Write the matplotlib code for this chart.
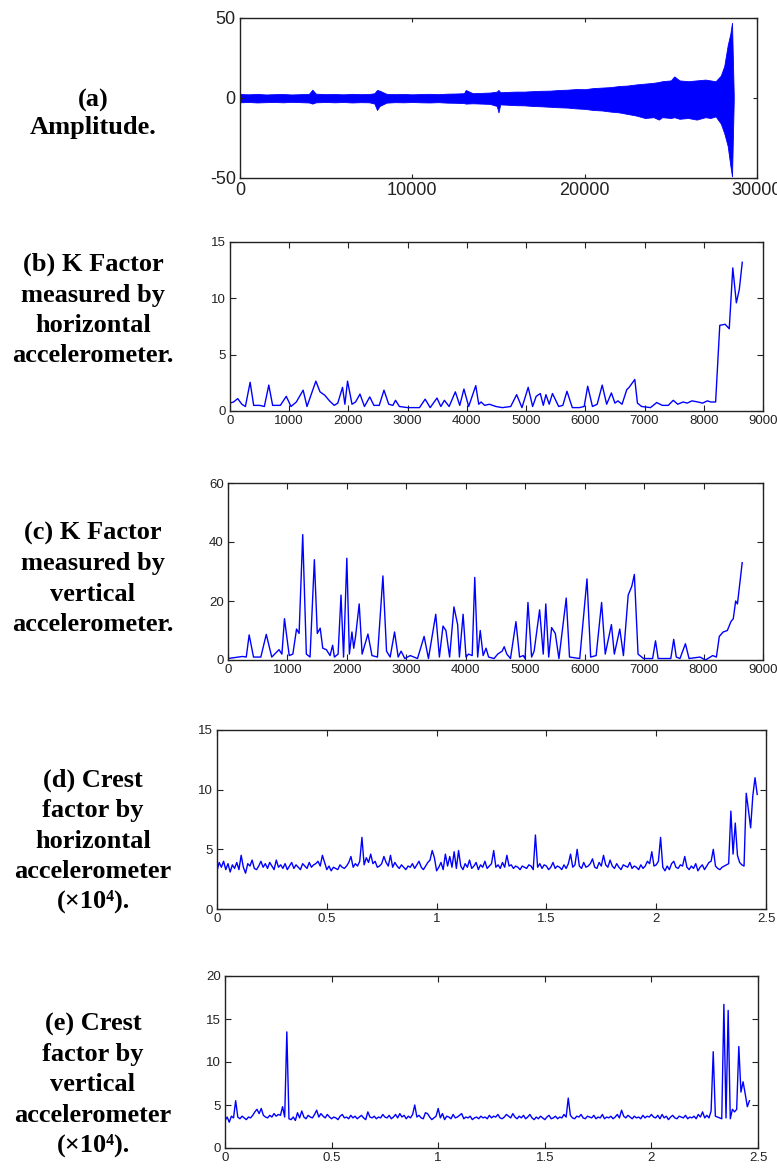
import numpy as np
import matplotlib.pyplot as plt

plt.rcParams['axes.unicode_minus'] = False

# (a) vibration amplitude, drawn as upper / lower envelope of the raw signal
amp_x = [0, 500, 1000, 1500, 2000, 2500, 3000, 3500, 4000, 4200, 4400, 5000, 5500,
         6000, 6500, 7000, 7500, 7800, 7950, 8100, 8500, 9000, 9500, 10000, 10500,
         11000, 11500, 12000, 12500, 13000, 13100, 13500, 14000, 14500, 14900, 15000,
         15100, 15500, 16000, 16500, 17000, 17500, 18000, 18500, 19000, 19500, 20000,
         20500, 21000, 21500, 22000, 22500, 23000, 23500, 24000, 24300, 24500, 25000,
         25200, 25500, 26000, 26500, 27000, 27300, 27600, 27900, 28100, 28300, 28450,
         28550, 28650]
amp_hi = [2.5, 2.3, 2.6, 2.2, 2.4, 2.5, 2.2, 2.4, 2.6, 5.2, 2.7, 2.4, 2.5,
          2.3, 2.6, 2.4, 2.5, 3.0, 5.0, 4.6, 2.6, 2.4, 2.5, 2.3, 2.5,
          2.6, 2.4, 2.7, 2.8, 3.0, 5.0, 3.0, 3.2, 3.4, 4.0, 5.0,
          3.6, 3.8, 4.0, 4.0, 4.3, 4.5, 4.6, 5.0, 5.2, 5.6, 5.5,
          6.2, 6.5, 6.8, 7.5, 7.8, 8.5, 9.0, 9.5, 10.0, 10.5, 11.0,
          13.5, 11.0, 10.5, 11.0, 11.5, 11.0, 10.5, 14.0, 20.0, 33.0, 40.0,
          47.0, 2.0]
amp_lo = [-2.7, -2.5, -2.8, -2.6, -2.5, -2.7, -2.4, -2.6, -2.8, -3.5, -2.7, -2.5, -2.7,
          -2.5, -2.8, -2.6, -2.7, -3.5, -7.5, -5.0, -2.9, -2.6, -2.7, -2.5, -2.7,
          -2.8, -2.6, -2.9, -3.0, -3.2, -3.5, -3.3, -3.5, -3.7, -5.0, -9.0,
          -4.0, -4.2, -4.5, -4.6, -5.0, -5.2, -5.5, -5.8, -6.0, -6.5, -6.8,
          -7.5, -7.8, -8.5, -9.0, -10.0, -11.0, -12.5, -12.0, -13.5, -12.0, -12.5,
          -12.0, -13.0, -12.5, -13.5, -12.0, -12.5, -11.5, -16.0, -22.0, -30.0, -42.0,
          -49.0, -2.0]

# (b) K factor, horizontal accelerometer
kh_x = [0, 60, 130, 200, 260, 340, 400, 500, 580, 655, 720, 850, 950, 1030, 1120,
        1235, 1300, 1450, 1520, 1600, 1680, 1760, 1820, 1900, 1940, 1985, 2060, 2120,
        2195, 2270, 2360, 2430, 2520, 2600, 2680, 2750, 2795, 2860, 3000, 3200, 3295,
        3380, 3495, 3560, 3620, 3700, 3805, 3880, 3950, 4030, 4150, 4200, 4240, 4300,
        4380, 4490, 4600, 4740, 4840, 4930, 5035, 5110, 5170, 5240, 5290, 5335, 5390,
        5445, 5550, 5620, 5690, 5780, 5900, 5980, 6040, 6120, 6200, 6285, 6360, 6440,
        6500, 6550, 6620, 6700, 6740, 6835, 6880, 6950, 7100, 7205, 7300, 7400, 7485,
        7560, 7650, 7720, 7800, 7900, 7980, 8060, 8120, 8200, 8270, 8360, 8430, 8490,
        8550, 8600, 8650]
kh_y = [0.7, 0.8, 1.1, 0.6, 0.4, 2.55, 0.5, 0.5, 0.4, 2.3, 0.5, 0.5, 1.3, 0.4, 0.8,
        1.85, 0.4, 2.65, 1.7, 1.4, 0.9, 0.5, 0.7, 2.1, 0.6, 2.65, 0.6, 0.8,
        1.5, 0.4, 1.25, 0.5, 0.5, 1.85, 0.6, 0.5, 0.95, 0.4, 0.3, 0.3, 1.05,
        0.3, 1.15, 0.4, 0.95, 0.4, 1.7, 0.5, 1.95, 0.4, 2.25, 0.6, 0.8, 0.5,
        0.6, 0.4, 0.3, 0.4, 1.45, 0.3, 2.1, 0.4, 1.3, 1.55, 0.5, 1.45, 0.6,
        1.55, 0.4, 0.5, 1.75, 0.3, 0.3, 0.4, 2.2, 0.4, 0.6, 2.3, 0.6, 1.6,
        0.7, 0.9, 0.6, 1.9, 2.1, 2.8, 0.7, 0.4, 0.3, 0.75, 0.5, 0.5, 0.95,
        0.6, 0.8, 0.7, 0.9, 0.8, 0.7, 0.9, 0.8, 0.8, 7.6, 7.7, 7.3, 12.7,
        9.6, 10.8, 13.2]

# (c) K factor, vertical accelerometer
kv_x = [0, 245, 307, 356, 429, 552, 644, 736, 858, 907, 950, 1030, 1091, 1153, 1196,
        1257, 1318, 1380, 1453, 1502, 1551, 1594, 1655, 1717, 1760, 1790, 1852, 1901,
        1944, 1999, 2042, 2085, 2115, 2146, 2207, 2256, 2354, 2422, 2514, 2606, 2667,
        2728, 2802, 2863, 2912, 2974, 3066, 3188, 3299, 3372, 3495, 3556, 3617, 3666,
        3728, 3801, 3863, 3893, 3955, 4004, 4047, 4108, 4151, 4200, 4243, 4292, 4341,
        4384, 4476, 4537, 4611, 4647, 4690, 4752, 4844, 4905, 4966, 4997, 5046, 5107,
        5150, 5242, 5303, 5346, 5395, 5444, 5506, 5567, 5690, 5745, 5917, 6039, 6101,
        6193, 6285, 6346, 6450, 6499, 6591, 6652, 6732, 6793, 6836, 6898, 6990, 7143,
        7192, 7236, 7449, 7498, 7541, 7603, 7695, 7756, 7940, 8032, 8154, 8216, 8265,
        8330, 8400, 8460, 8500, 8540, 8570, 8610, 8650]
kv_y = [0.5, 1.2, 1.0, 8.5, 1.0, 1.0, 8.7, 1.0, 3.5, 2.0, 14.0, 1.5, 2.0, 10.5, 9.0,
        42.5, 2.0, 1.0, 34.0, 9.0, 10.8, 4.0, 3.5, 1.5, 5.0, 1.0, 2.0, 22.0,
        1.0, 34.5, 2.0, 9.5, 4.0, 8.0, 19.0, 2.0, 8.8, 1.5, 1.0, 28.5, 3.0,
        1.0, 9.5, 1.0, 3.0, 0.5, 1.5, 0.5, 8.0, 0.5, 15.5, 1.0, 11.5, 10.0,
        1.0, 18.0, 12.0, 1.0, 15.5, 1.0, 2.0, 1.5, 28.0, 1.0, 10.0, 1.5, 4.0,
        1.0, 0.5, 2.0, 3.0, 4.5, 2.0, 0.5, 13.0, 1.0, 1.5, 0.5, 19.5, 1.0,
        3.0, 17.0, 2.0, 19.0, 1.0, 11.0, 9.0, 0.5, 21.0, 1.0, 0.5, 27.5, 1.0,
        1.5, 19.5, 2.0, 12.0, 2.0, 10.5, 1.5, 22.0, 25.0, 29.0, 2.0, 0.5, 0.5,
        6.5, 0.5, 0.5, 7.0, 1.0, 0.5, 5.5, 0.5, 1.0, 0.0, 1.5, 1.0, 8.0,
        9.5, 10.0, 13.0, 14.0, 20.0, 19.0, 26.0, 33.0]

# (d) crest factor, horizontal accelerometer, one value per 0.01 (x10^4 samples)
ch_y = [3.2, 3.9, 3.5, 4.0, 3.3, 3.8, 3.1, 3.7, 3.4, 3.9,
        3.3, 4.5, 3.5, 3.0, 3.8, 3.6, 4.1, 3.4, 3.3, 3.6,
        4.0, 3.5, 3.8, 3.4, 3.9, 3.6, 3.3, 4.1, 3.5, 3.7,
        3.4, 3.8, 3.3, 3.6, 3.9, 3.4, 3.7, 3.5, 3.3, 3.8,
        3.6, 3.4, 3.9, 3.5, 3.7, 3.8, 4.0, 3.6, 4.5, 3.9,
        3.3, 3.6, 3.2, 3.5, 3.4, 3.3, 3.7, 3.5, 3.4, 3.6,
        3.9, 4.4, 3.5, 3.8, 3.6, 4.0, 6.0, 3.7, 4.3, 3.9,
        4.6, 3.8, 4.0, 3.5, 3.6, 3.8, 4.4, 3.9, 3.6, 4.5,
        3.5, 3.9, 3.6, 3.4, 3.7, 3.5, 3.3, 3.6, 3.5, 3.8,
        3.4, 3.7, 4.0, 3.5, 3.3, 3.6, 3.9, 4.1, 4.9, 4.3,
        3.2, 3.5, 3.9, 3.3, 4.6, 3.6, 4.4, 3.5, 4.8, 3.4,
        4.9, 3.6, 3.3, 3.8, 3.5, 4.1, 3.4, 3.6, 3.9, 3.3,
        3.7, 3.5, 4.0, 3.4, 3.6, 3.8, 4.9, 3.5, 3.7, 3.4,
        3.9, 3.5, 4.5, 3.6, 3.7, 3.4, 3.6, 3.5, 3.3, 3.6,
        3.5, 3.4, 3.7, 3.6, 3.3, 6.2, 3.5, 3.8, 3.4, 3.7,
        3.6, 3.3, 3.5, 3.9, 3.4, 3.6, 3.5, 3.3, 3.7, 3.4,
        3.8, 4.6, 3.5, 3.7, 5.0, 3.6, 3.4, 3.9, 3.5, 3.6,
        3.8, 4.2, 3.5, 3.4, 3.9, 3.6, 4.5, 3.7, 3.5, 4.1,
        3.6, 3.4, 3.8, 3.5, 3.3, 3.7, 3.6, 3.5, 3.9, 3.4,
        3.6, 3.5, 3.3, 3.7, 3.4, 3.6, 4.0, 3.8, 4.8, 3.6,
        3.7, 4.0, 6.0, 3.5, 3.2, 3.6, 3.3, 3.8, 4.0, 3.5,
        3.4, 3.7, 3.6, 4.4, 3.5, 3.3, 3.6, 3.4, 3.8, 3.2,
        3.5, 3.7, 3.3, 3.6, 3.9, 4.0, 5.0, 3.6, 3.4, 3.3,
        3.5, 3.6, 3.7, 3.8, 8.2, 4.6, 7.2, 4.5, 3.9, 3.7,
        3.6, 9.7, 8.3, 6.8, 9.5, 11.0, 9.6]

# (e) crest factor, vertical accelerometer
cv_y = [3.2, 3.6, 3.0, 3.7, 3.5, 5.5, 3.6, 3.4, 3.7, 3.5,
        3.3, 3.6, 3.5, 3.8, 4.2, 4.5, 4.0, 4.6, 3.8, 3.6,
        3.5, 3.8, 3.6, 4.0, 3.7, 3.9, 3.8, 4.8, 3.6, 13.5,
        3.4, 3.3, 3.6, 3.2, 4.1, 3.5, 4.3, 3.6, 3.4, 3.8,
        3.6, 3.5, 3.9, 4.4, 3.6, 4.0, 3.7, 3.5, 3.9, 3.6,
        3.4, 3.6, 3.5, 3.3, 3.7, 3.9, 3.5, 3.6, 3.4, 3.8,
        3.5, 3.7, 3.4, 3.6, 3.8, 3.5, 3.3, 4.2, 3.6, 3.5,
        3.7, 3.4, 3.6, 3.5, 3.9, 3.6, 3.5, 3.8, 3.4, 3.6,
        3.9, 3.5, 4.0, 3.6, 3.8, 3.4, 3.7, 3.5, 3.9, 5.0,
        3.6, 3.8, 3.5, 3.4, 4.1, 4.0, 3.6, 3.3, 3.5, 3.7,
        4.6, 3.5, 4.0, 3.3, 3.7, 3.6, 3.4, 3.9, 3.5, 3.6,
        3.8, 4.0, 3.4, 3.6, 3.5, 3.7, 3.3, 3.5, 3.6, 3.4,
        3.7, 3.5, 3.6, 3.4, 3.8, 3.5, 3.7, 3.6, 3.9, 3.5,
        3.4, 3.6, 3.9, 3.7, 3.5, 4.0, 3.6, 3.4, 3.7, 3.5,
        3.8, 3.4, 3.6, 3.9, 3.5, 3.3, 3.6, 3.4, 3.7, 3.5,
        3.3, 3.6, 3.8, 3.4, 3.5, 3.7, 3.4, 3.6, 3.5, 3.9,
        3.6, 5.8, 3.8, 3.5, 3.4, 3.7, 3.6, 3.9, 3.5, 3.4,
        3.7, 3.6, 3.5, 3.8, 3.4, 3.6, 3.5, 3.9, 3.4, 3.6,
        3.5, 3.7, 3.4, 3.6, 3.9, 3.5, 4.4, 3.7, 3.5, 3.8,
        3.6, 3.4, 3.7, 3.5, 3.6, 3.4, 3.8, 3.5, 3.7, 3.6,
        3.9, 3.6, 3.5, 3.8, 3.4, 3.9, 3.5, 3.7, 3.3, 3.6,
        3.8, 3.5, 3.4, 3.7, 3.6, 3.5, 3.8, 3.4, 3.6, 3.5,
        3.7, 3.4, 3.9, 3.6, 4.2, 3.5, 3.8, 3.5, 4.3, 11.2,
        3.7, 3.6, 3.5, 3.4, 16.7, 3.5, 16.0, 3.4, 4.5, 4.2,
        4.5, 11.8, 6.5, 7.7, 6.3, 4.8, 5.5]

labels = [
    "(a)\nAmplitude.",
    "(b) K Factor\nmeasured by\nhorizontal\naccelerometer.",
    "(c) K Factor\nmeasured by\nvertical\naccelerometer.",
    "(d) Crest\nfactor by\nhorizontal\naccelerometer\n(\u00d710\u2074).",
    "(e) Crest\nfactor by\nvertical\naccelerometer\n(\u00d710\u2074).",
]
label_y = [114, 310, 579, 841, 1085]
label_gap = [1.2, 1.4, 1.4, 1.4, 1.4]

W, H = 777, 1171
fig = plt.figure(figsize=(W / 100, H / 100), dpi=100)

def box(x0, x1, y0, y1):
    # pixel box -> figure fraction
    return [x0 / W, 1 - y1 / H, (x1 - x0) / W, (y1 - y0) / H]

def style(ax, fs, tl):
    ax.tick_params(direction='in', top=True, right=True, length=tl, width=0.8,
                   labelsize=fs, pad=3, colors='#222222')
    for s in ax.spines.values():
        s.set_linewidth(1.0)
        s.set_color('#222222')
    for t in ax.get_xticklabels() + ax.get_yticklabels():
        t.set_family(['Liberation Sans', 'DejaVu Sans'])

blue = '#0000ff'

ax1 = fig.add_axes(box(240, 757, 18, 178))
ax1.fill_between(amp_x, amp_lo, amp_hi, color=blue, lw=0.6)
ax1.set_xlim(0, 30000)
ax1.set_ylim(-50, 50)
ax1.set_xticks([0, 10000, 20000, 30000])
ax1.set_yticks([-50, 0, 50])
style(ax1, 13, 3)

ax2 = fig.add_axes(box(230, 763, 242, 411))
ax2.plot(kh_x, kh_y, color=blue, lw=1.0)
ax2.set_xlim(0, 9000)
ax2.set_ylim(0, 15)
ax2.set_xticks(np.arange(0, 9001, 1000))
ax2.set_yticks([0, 5, 10, 15])
style(ax2, 9.5, 4)

ax3 = fig.add_axes(box(228, 763, 483, 660))
ax3.plot(kv_x, kv_y, color=blue, lw=1.0)
ax3.set_xlim(0, 9000)
ax3.set_ylim(0, 60)
ax3.set_xticks(np.arange(0, 9001, 1000))
ax3.set_yticks([0, 20, 40, 60])
style(ax3, 9.5, 4)

ax4 = fig.add_axes(box(217, 766, 730, 909))
ax4.plot(np.arange(len(ch_y)) / 100, ch_y, color=blue, lw=1.0)
ax4.set_xlim(0, 2.5)
ax4.set_ylim(0, 15)
ax4.set_xticks([0, 0.5, 1, 1.5, 2, 2.5])
ax4.set_xticklabels(['0', '0.5', '1', '1.5', '2', '2.5'])
ax4.set_yticks([0, 5, 10, 15])
style(ax4, 9.5, 4)

ax5 = fig.add_axes(box(225, 758, 976, 1148))
ax5.plot(np.arange(len(cv_y)) / 100, cv_y, color=blue, lw=1.0)
ax5.set_xlim(0, 2.5)
ax5.set_ylim(0, 20)
ax5.set_xticks([0, 0.5, 1, 1.5, 2, 2.5])
ax5.set_xticklabels(['0', '0.5', '1', '1.5', '2', '2.5'])
ax5.set_yticks([0, 5, 10, 15, 20])
style(ax5, 9.5, 4)

for txt, yc, gap in zip(labels, label_y, label_gap):
    fig.text(93 / W, 1 - yc / H, txt, ha='center', va='center', multialignment='center',
             fontsize=19, fontweight='bold', linespacing=gap,
             family=['Liberation Serif', 'DejaVu Serif'])

fig.savefig('out.png', dpi=100)
